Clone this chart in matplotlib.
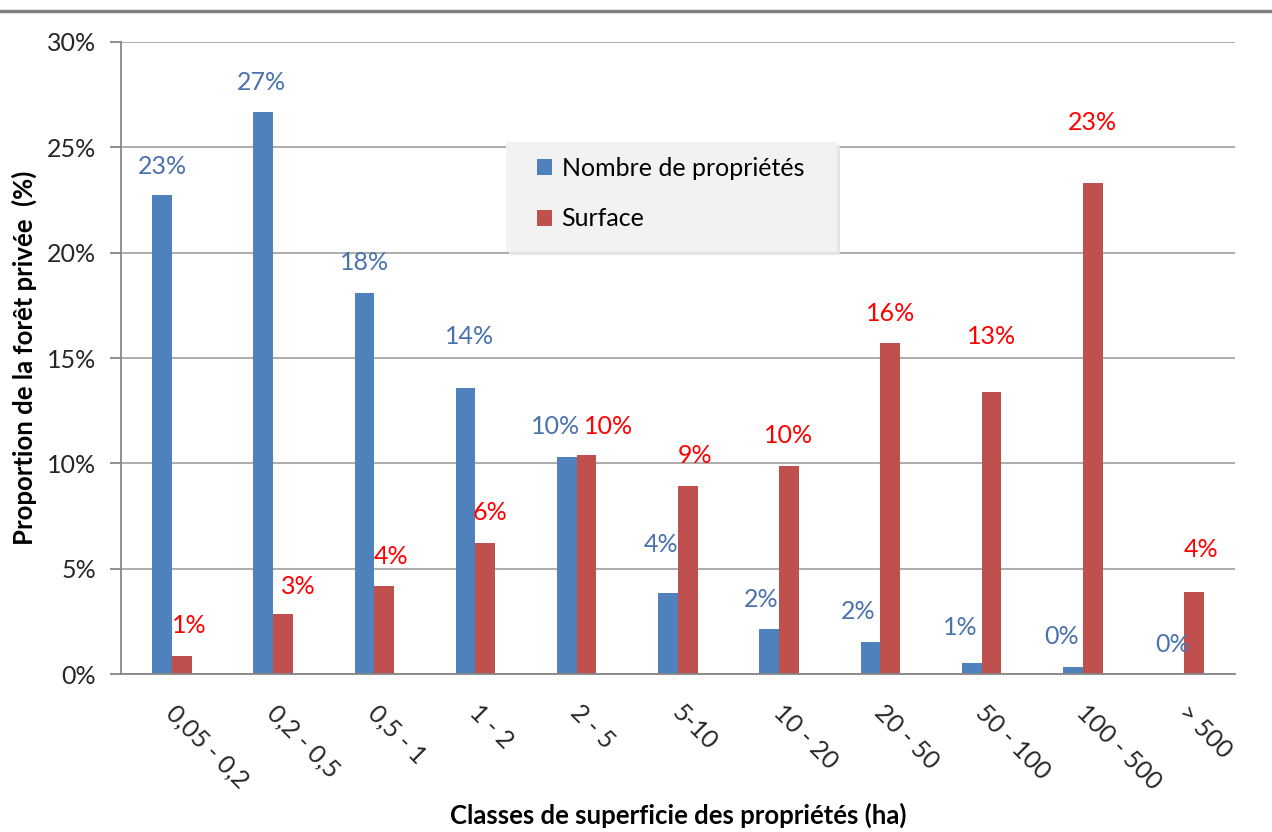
import matplotlib.pyplot as plt
import numpy as np
from matplotlib.patches import Rectangle, Patch
from matplotlib.lines import Line2D
from matplotlib.ticker import FuncFormatter
from matplotlib.transforms import ScaledTranslation

plt.rcParams['font.family'] = ['Lato', 'DejaVu Sans']

# data (% of private forest)
classes = ['0,05 - 0,2', '0,2 - 0,5', '0,5 - 1', '1 - 2', '2 - 5', '5-10',
           '10 - 20', '20 - 50', '50 - 100', '100 - 500', '> 500']
nombre = [22.75, 26.65, 18.1, 13.6, 10.3, 3.85, 2.15, 1.55, 0.55, 0.35, 0.03]
surface = [0.87, 2.86, 4.2, 6.25, 10.4, 8.95, 9.9, 15.7, 13.4, 23.3, 3.92]

# label nudges in pixels (labels were dragged around in the original)
blue_dx = [0, -2, 0, 4, -11, -7, -8, -12, -11, -11, -2]
blue_dy = [28, 30, 30, 51, 31, 49, 29, 30, 35, 30, 29]
red_dx = [8, 15, 7, 5, 22, 7, 0, 0, 0, 0, 7]
red_dy = [30, 27, 29, 30, 28, 30, 30, 30, 55, 60, 42]

blue = '#4f81bd'
red = '#c0504d'

fig = plt.figure(figsize=(12.72, 8.32), dpi=100)
ax = fig.add_axes([121.2/1272, 1-674.3/832, 1113.4/1272, 632.6/832])

x = np.arange(len(classes))
w = 0.195
ax.bar(x - w/2, nombre, w, color=blue, zorder=2)
ax.bar(x + w/2, surface, w, color=red, zorder=2)

for i in range(len(classes)):
    ax.annotate(f"{nombre[i]:.0f}%", (x[i] - w/2, nombre[i]), xytext=(blue_dx[i], blue_dy[i]),
                textcoords='offset pixels', ha='center', va='center', fontsize=18, color='#4a72ad')
    ax.annotate(f"{surface[i]:.0f}%", (x[i] + w/2, surface[i]), xytext=(red_dx[i], red_dy[i]),
                textcoords='offset pixels', ha='center', va='center', fontsize=18, color='#ff0000')

ax.set_xlim(-0.5, len(classes) - 0.5)
ax.set_ylim(0, 30)
ax.set_yticks(np.arange(0, 31, 5))
ax.yaxis.set_major_formatter(FuncFormatter(lambda v, p: f"{v:.0f}%"))
ax.yaxis.grid(True, color='#a6a6a6', lw=1.3, zorder=0)
ax.set_axisbelow(True)
for s in ['top', 'right']:
    ax.spines[s].set_visible(False)
for s in ['left', 'bottom']:
    ax.spines[s].set_color('#868686')
    ax.spines[s].set_linewidth(1.3)
ax.tick_params(axis='y', length=8, color='#868686', width=1.3, pad=10, labelsize=18, labelcolor='#262626')
ax.set_xticks(x)
ax.set_xticklabels(classes, rotation=-45, ha='left', rotation_mode='anchor', fontsize=18, color='#262626')
ax.tick_params(axis='x', length=0, pad=19)
shift = ScaledTranslation(6/100, 0, fig.dpi_scale_trans)
for lab in ax.get_xticklabels():
    lab.set_transform(lab.get_transform() + shift)

ax.set_ylabel('Proportion de la forêt privée  (%)', fontsize=18.5, fontweight='bold')
ax.yaxis.set_label_coords(-0.0756, 0.5)
ax.set_xlabel('Classes de superficie des propriétés (ha)', fontsize=18.5, fontweight='bold')
ax.xaxis.set_label_coords(0.5, -0.203)

# legend box
ax.add_patch(Rectangle((509/1272, 1-255/832), 331/1272, 110/832, transform=fig.transFigure,
                       fc='#e4e4e4', ec='none', zorder=3, clip_on=False))
ax.add_patch(Rectangle((506/1272, 1-252/832), 331/1272, 110/832, transform=fig.transFigure,
                       fc='#f2f2f2', ec='none', zorder=4, clip_on=False))
handles = [Patch(fc=blue), Patch(fc=red)]
leg = ax.legend(handles, ['Nombre de propriétés', 'Surface'], loc='upper left',
                bbox_to_anchor=(524/1272, 1-144/832), bbox_transform=fig.transFigure,
                frameon=False, fontsize=18, borderpad=0, handlelength=0.6, handleheight=0.6,
                handletextpad=0.4, labelspacing=1.12)
leg.set_zorder(5)

fig.add_artist(Line2D([0, 1], [1-10.5/832]*2, transform=fig.transFigure, color='#808080', lw=2.5))

plt.savefig('out.png', dpi=100)
